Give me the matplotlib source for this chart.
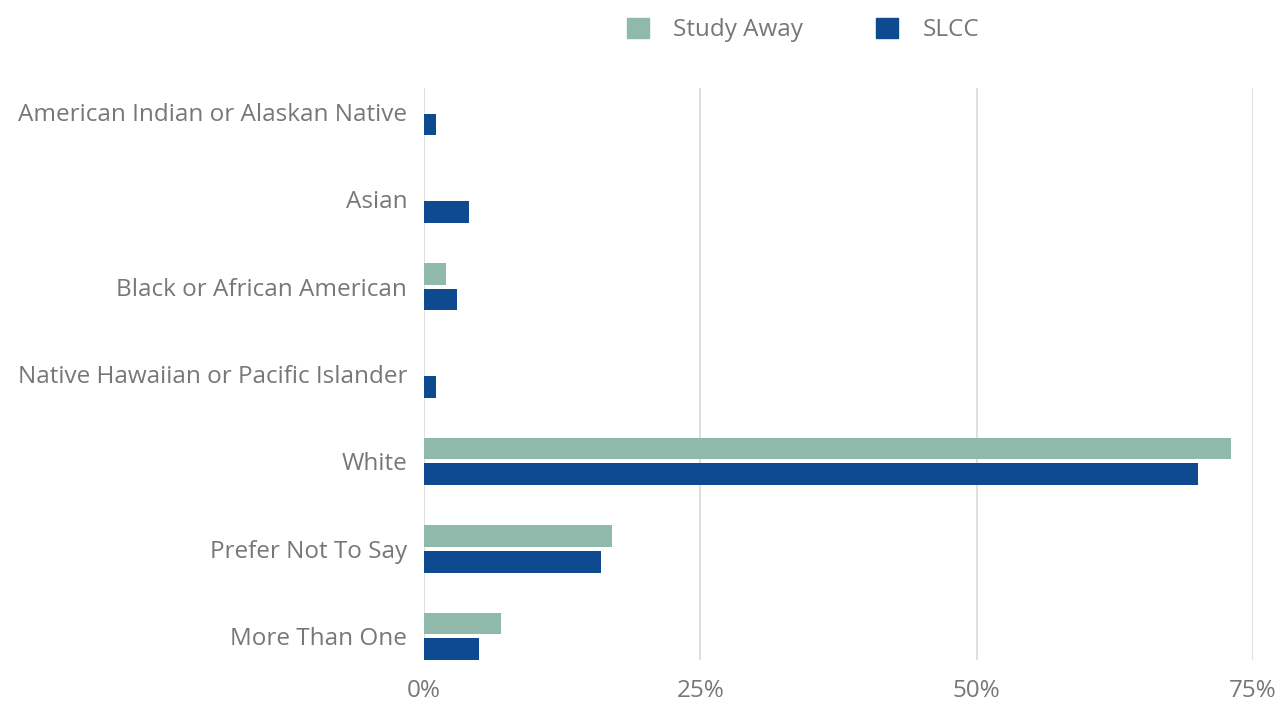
import numpy as np
import matplotlib.pyplot as plt
from matplotlib.patches import Patch

categories = ['American Indian or Alaskan Native', 'Asian', 'Black or African American',
              'Native Hawaiian or Pacific Islander', 'White', 'Prefer Not To Say', 'More Than One']
study_away = [0, 0, 2.0, 0, 73.0, 17.0, 7.0]
slcc = [1.1, 4.1, 3.0, 1.1, 70.0, 16.0, 5.0]
xticks = [0, 25, 50, 75]
xtick_labels = ['0%', '25%', '50%', '75%']

c_sa = '#8fb9aa'
c_slcc = '#0d4a8f'
grey = '#777777'

plt.rcParams['font.family'] = ['Open Sans', 'DejaVu Sans']

fig = plt.figure(figsize=(12.79, 7.01), dpi=100)
ax = fig.add_axes([424 / 1279, 1 - 660 / 701, (1253 - 424) / 1279, (660 - 88) / 701])

y = np.arange(len(categories))
h = 0.25
off = 0.148
ax.barh(y - off, study_away, height=h, color=c_sa, zorder=3)
ax.barh(y + off, slcc, height=h, color=c_slcc, zorder=3)

ax.set_ylim(len(categories) - 1 + 0.27, -0.27)
ax.set_xlim(0, 75)
ax.set_xticks(xticks)
ax.set_xticklabels(xtick_labels)
ax.set_yticks(y)
ax.set_yticklabels(categories)
ax.tick_params(axis='both', length=0, labelsize=17.5, colors=grey)
ax.tick_params(axis='x', pad=14)
ax.tick_params(axis='y', pad=12)
ax.grid(axis='x', color='#d9d9d9', linewidth=1.2, zorder=0)
for s in ax.spines.values():
    s.set_visible(False)

handles = [Patch(color=c_sa, label='Study Away'), Patch(color=c_slcc, label='SLCC')]
fig.legend(handles=handles, loc='center', bbox_to_anchor=(0.628, 1 - 30 / 701), ncol=2,
           frameon=False, fontsize=17.5, labelcolor=grey, handlelength=0.9, handleheight=0.9,
           handletextpad=1.0, columnspacing=3.0)

fig.savefig('out.png', dpi=100)
